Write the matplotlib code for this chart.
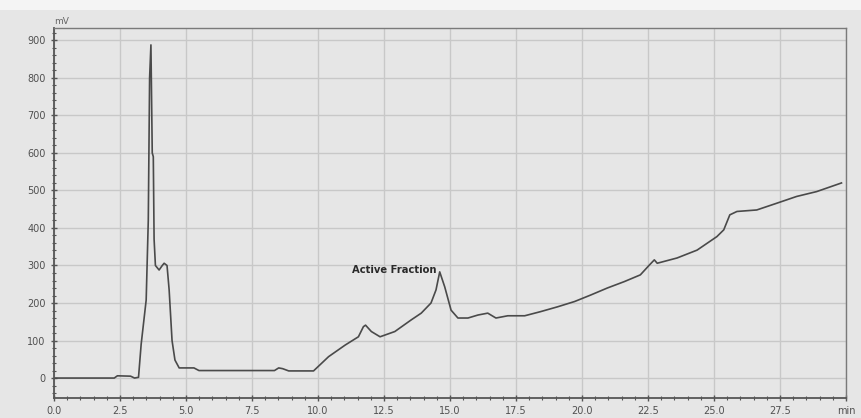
import matplotlib.pyplot as plt
from matplotlib.patches import Rectangle
from matplotlib.ticker import MultipleLocator

# Retention time (min) and detector signal (mV)
time_min = [0.0, 2.28, 2.40, 2.90, 3.05, 3.20, 3.30, 3.49, 3.57, 3.62, 3.67,
            3.72, 3.76, 3.79, 3.84, 3.98, 4.10, 4.17, 4.28, 4.36, 4.47,
            4.58, 4.74, 5.30, 5.49, 8.35, 8.51, 8.66, 8.89, 9.83, 10.40,
            11.03, 11.53, 11.72, 11.80, 12.02, 12.35, 12.91, 13.53, 13.91,
            14.28, 14.47, 14.61, 14.80, 15.04, 15.30, 15.68, 16.06, 16.43,
            16.74, 17.19, 17.83, 18.43, 19.08, 19.72, 20.32, 20.96, 21.60,
            22.21, 22.55, 22.74, 22.85, 23.60, 24.36, 25.11, 25.37, 25.60,
            25.87, 26.62, 27.38, 28.13, 28.89, 29.83]
signal_mv = [0, 0, 6, 5, 0, 2, 90, 208, 420, 800, 888,
             600, 590, 370, 300, 288, 300, 306, 300, 235, 100,
             48, 27, 27, 20, 20, 27, 25, 19, 19, 57,
             88, 110, 137, 141, 124, 110, 124, 155, 173,
             200, 235, 283, 243, 181, 160, 160, 168, 173,
             160, 166, 166, 177, 190, 204, 221, 240, 257,
             275, 301, 315, 306, 320, 341, 377, 395, 435,
             444, 448, 466, 484, 497, 520]

x_ticks = [0.0, 2.5, 5.0, 7.5, 10.0, 12.5, 15.0, 17.5, 20.0, 22.5, 25.0, 27.5, 30.0]
x_tick_labels = ['0.0', '2.5', '5.0', '7.5', '10.0', '12.5', '15.0', '17.5',
                 '20.0', '22.5', '25.0', '27.5', 'min']
y_ticks = [0, 100, 200, 300, 400, 500, 600, 700, 800, 900]

peak_label = 'Active Fraction'
peak_time = 14.61
peak_value = 283

bg = '#e6e6e6'
fig = plt.figure(figsize=(8.62, 4.18), dpi=100, facecolor=bg)
fig.patches.append(Rectangle((0, 0.975), 1, 0.025, transform=fig.transFigure,
                             facecolor='#f4f4f4', edgecolor='none', zorder=-1))
ax = fig.add_axes([0.0627, 0.048, 0.9187, 0.885])
ax.set_facecolor(bg)

ax.plot(time_min, signal_mv, color='#4a4a4a', linewidth=1.2)

ax.set_xlim(0, 29.9)
ax.set_ylim(-53, 933)
ax.set_xticks(x_ticks)
ax.set_xticklabels(x_tick_labels)
ax.set_yticks(y_ticks)
ax.xaxis.set_minor_locator(MultipleLocator(0.5))
ax.yaxis.set_minor_locator(MultipleLocator(20))

ax.grid(True, which='major', color='#c8c8c8', linewidth=1.0)
ax.set_axisbelow(True)
ax.tick_params(which='both', direction='inout', colors='#555555', labelsize=7,
               labelcolor='#505050')
ax.tick_params(which='major', length=5, width=1)
ax.tick_params(which='minor', length=3, width=0.8)
for side in ['left', 'bottom']:
    ax.spines[side].set_color('#555555')
    ax.spines[side].set_linewidth(1.3)
for side in ['top', 'right']:
    ax.spines[side].set_color('#7a7a7a')
    ax.spines[side].set_linewidth(1.0)

ax.text(0.0, 1.005, 'mV', transform=ax.transAxes, fontsize=6.5,
        color='#666666', ha='left', va='bottom')
ax.text(peak_time - 0.12, peak_value + 5, peak_label, fontsize=7.2,
        color='#2a2a2a', ha='right', va='center', fontweight='semibold')

fig.savefig('out.png', dpi=100, facecolor=bg)
